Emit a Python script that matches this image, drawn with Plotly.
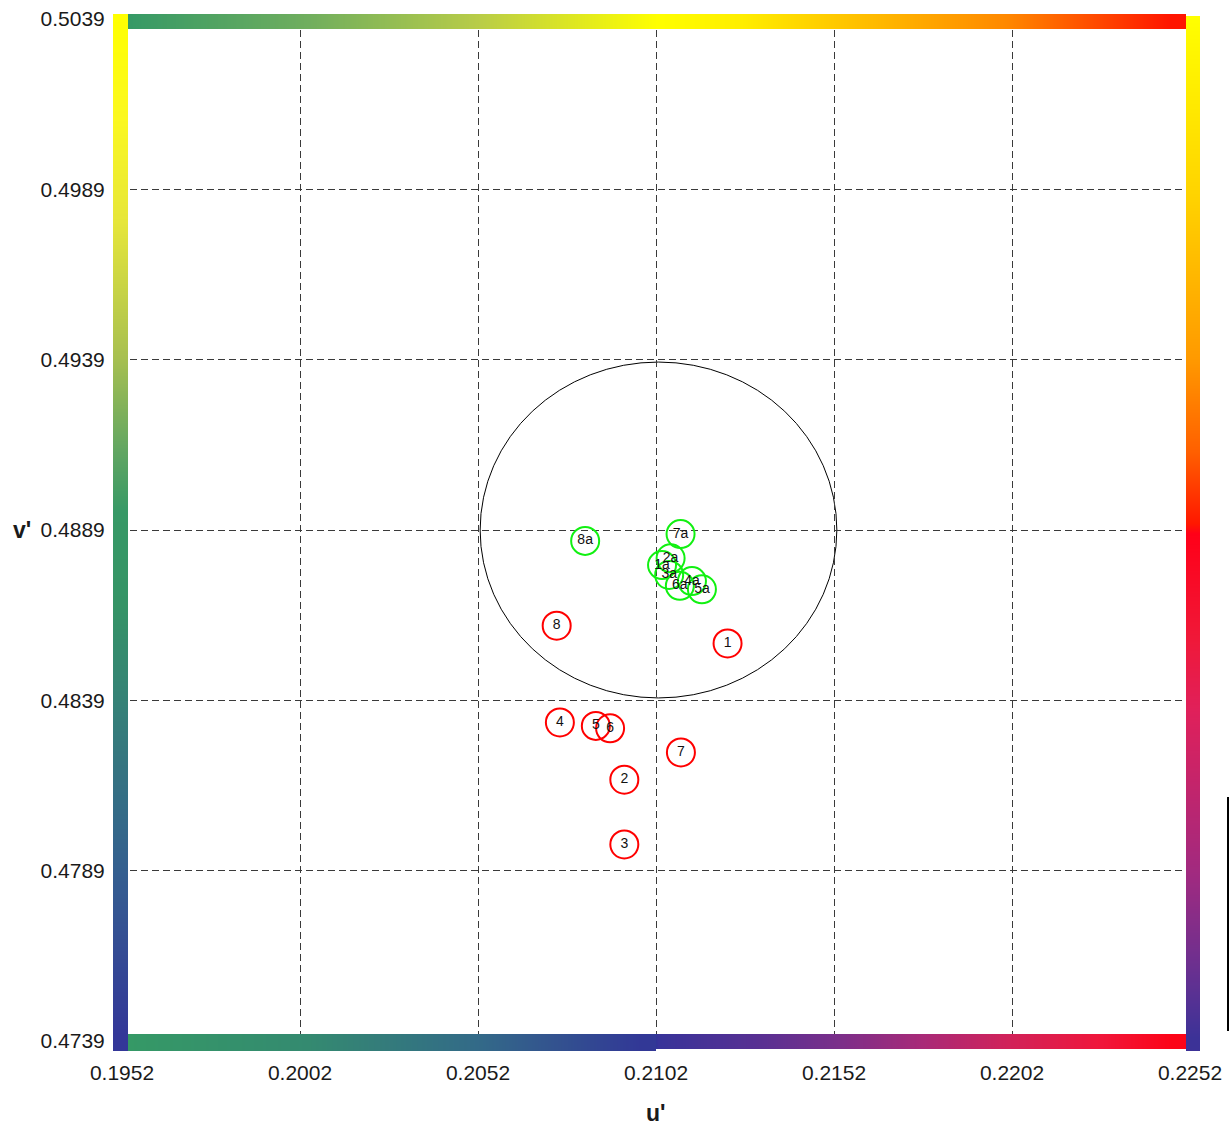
import numpy as np
import plotly.graph_objects as go

# ---------------- data ----------------
u_ticks = [0.1952, 0.2002, 0.2052, 0.2102, 0.2152, 0.2202, 0.2252]
v_ticks = [0.4739, 0.4789, 0.4839, 0.4889, 0.4939, 0.4989, 0.5039]
u_tick_text = ["0.1952", "0.2002", "0.2052", "0.2102", "0.2152", "0.2202", "0.2252"]
v_tick_text = ["0.4739", "0.4789", "0.4839", "0.4889", "0.4939", "0.4989", "0.5039"]

red_labels = ["1", "2", "3", "4", "5", "6", "7", "8"]
red_u = [0.21221, 0.20931, 0.20931, 0.20750, 0.20851, 0.20891, 0.21090, 0.20741]
red_v = [0.48557, 0.48157, 0.47967, 0.48325, 0.48315, 0.48308, 0.48237, 0.48609]

green_labels = ["1a", "2a", "3a", "4a", "5a", "6a", "7a", "8a"]
green_u = [0.21037, 0.21061, 0.21057, 0.21121, 0.21149, 0.21087, 0.21089, 0.20821]
green_v = [0.48787, 0.48807, 0.48758, 0.48740, 0.48716, 0.48726, 0.48878, 0.48858]

circle_center = (0.21027, 0.4889)
circle_radius_u = 0.00501
circle_radius_v = 0.00493

# ---------------- layout geometry (pixels) ----------------
FIG_W, FIG_H = 1229, 1127
# pixel positions of the first / last tick values
PL, PR, PT, PB = 122, 1190, 19, 1041
# plot-area edges (slightly larger than tick span so the frame bars lie inside)
AL, AR, AT, AB = 119, 1194, 19, 1045
U_MIN, U_MAX = u_ticks[0], u_ticks[-1]
V_MIN, V_MAX = v_ticks[0], v_ticks[-1]


def px_to_u(px):
    return U_MIN + (np.asarray(px, float) - PL) / (PR - PL) * (U_MAX - U_MIN)


def py_to_v(py):
    return V_MAX - (np.asarray(py, float) - PT) / (PB - PT) * (V_MAX - V_MIN)


def hex_rgb(h):
    h = h.lstrip("#")
    return [int(h[i:i + 2], 16) for i in (0, 2, 4)]


def interp_colors(fracs, stops):
    pos = np.array([s[0] for s in stops])
    rgb = np.array([hex_rgb(s[1]) for s in stops], float)
    out = []
    for f in fracs:
        r = np.interp(f, pos, rgb[:, 0])
        g = np.interp(f, pos, rgb[:, 1])
        b = np.interp(f, pos, rgb[:, 2])
        out.append(f"rgb({int(round(r))},{int(round(g))},{int(round(b))})")
    return out


top_stops = [(0, "#359966"), (0.17, "#70ae5e"), (0.33, "#b8cc48"), (0.5, "#ffff00"),
             (0.58, "#ffee00"), (0.67, "#ffc800"), (0.83, "#ff8800"), (1, "#ff0a00")]
bottom_stops = [(0, "#359966"), (0.17, "#348a70"), (0.33, "#336a88"), (0.4999, "#323398"),
                (0.5001, "#373399"), (0.6, "#5a3092"), (0.67, "#7a2f8a"), (0.75, "#a82a78"),
                (0.83, "#d0225a"), (0.92, "#f0163a"), (1, "#ff0010")]
left_stops = [(0, "#ffff00"), (0.1, "#fbf820"), (0.2, "#e6e63a"), (0.33, "#a8c050"),
              (0.42, "#62a662"), (0.48, "#379966"), (0.57, "#359466"), (0.67, "#358078"),
              (0.83, "#345e90"), (1, "#333399")]
right_stops = [(0, "#ffff00"), (0.17, "#ffd400"), (0.33, "#ff9a00"), (0.42, "#ff6000"),
               (0.49, "#ff1800"), (0.5, "#ff0018"), (0.6, "#f01838"), (0.67, "#e0205a"),
               (0.83, "#a02a80"), (0.92, "#6a3090"), (1, "#333399")]

fig = go.Figure()


def h_edge(x_start, x_end, yc, th, stops, full_start, full_end):
    p = np.arange(x_start + th / 2, x_end - th / 2 + 0.01, 1.0)
    fr = (p - th / 2 - full_start) / (full_end - full_start)
    fig.add_trace(go.Scatter(
        x=px_to_u(p), y=py_to_v(np.full_like(p, yc)), mode="markers",
        marker=dict(symbol="square", size=th, color=interp_colors(fr, stops), line=dict(width=0)),
        hoverinfo="skip", showlegend=False, cliponaxis=False))


def v_edge(y_start, y_end, xc, th, stops):
    p = np.arange(y_start + th / 2, y_end - th / 2 + 0.01, 1.0)
    fr = (p - th / 2 - y_start) / (y_end - y_start)
    fig.add_trace(go.Scatter(
        x=px_to_u(np.full_like(p, xc)), y=py_to_v(p), mode="markers",
        marker=dict(symbol="square", size=th, color=interp_colors(fr, stops), line=dict(width=0)),
        hoverinfo="skip", showlegend=False, cliponaxis=False))


# gradient frame
h_edge(128, 1186, 21.5, 15, top_stops, 128, 1186)
h_edge(128, 656, 1042.5, 17, bottom_stops, 128, 1186)
h_edge(656, 1186, 1041.5, 15, bottom_stops, 128, 1186)
v_edge(14, 1051, 120.5, 15, left_stops)
v_edge(16, 1051, 1193, 14, right_stops)

# points
fig.add_trace(go.Scatter(
    x=red_u, y=red_v, mode="markers+text", text=red_labels, textposition="middle center",
    textfont=dict(family="Liberation Sans, Arial, sans-serif", size=14, color="#111"),
    marker=dict(symbol="circle", size=28, color="rgba(0,0,0,0)", line=dict(color="#ff0000", width=2)),
    showlegend=False, name="samples"))
fig.add_trace(go.Scatter(
    x=green_u, y=green_v, mode="markers+text", text=green_labels, textposition="middle center",
    textfont=dict(family="Liberation Sans, Arial, sans-serif", size=14, color="#111"),
    marker=dict(symbol="circle", size=28, color="rgba(0,0,0,0)", line=dict(color="#11f011", width=2)),
    showlegend=False, name="adjusted"))

# tolerance circle
fig.add_shape(type="circle", xref="x", yref="y",
              x0=circle_center[0] - circle_radius_u, x1=circle_center[0] + circle_radius_u,
              y0=circle_center[1] - circle_radius_v, y1=circle_center[1] + circle_radius_v,
              line=dict(color="black", width=1), layer="below")

# partial line at right edge
fig.add_shape(type="line", xref="paper", yref="paper",
              x0=(1228 - AL) / (AR - AL), x1=(1228 - AL) / (AR - AL),
              y0=(AB - 797) / (AB - AT), y1=(AB - 1031) / (AB - AT),
              line=dict(color="black", width=2))

tick_font = dict(family="Liberation Sans, Arial, sans-serif", size=21, color="#1a1a1a")
axis_common = dict(showline=False, zeroline=False, showgrid=True, gridcolor="#3a3a3a",
                   gridwidth=1, griddash="7px,4px", ticks="outside",
                   tickcolor="rgba(0,0,0,0)", tickfont=tick_font, automargin=False, fixedrange=True)

fig.update_xaxes(range=[float(px_to_u(AL)), float(px_to_u(AR))], tickvals=u_ticks,
                 ticktext=u_tick_text, ticklen=9, **axis_common)
fig.update_yaxes(range=[float(py_to_v(AB)), float(py_to_v(AT))], tickvals=v_ticks,
                 ticktext=v_tick_text, ticklen=9, **axis_common)

title_font = dict(family="Liberation Sans, Arial, sans-serif", size=23, color="#1a1a1a")
fig.add_annotation(text="<b>u'</b>", xref="paper", yref="paper", x=(656 - AL) / (AR - AL), y=0,
                   xanchor="center", yanchor="middle", yshift=-(1113 - AB), showarrow=False, font=title_font)
fig.add_annotation(text="<b>v'</b>", xref="paper", yref="paper", x=0, y=(AB - 530) / (AB - AT),
                   xanchor="center", yanchor="middle", xshift=-(AL - 22), showarrow=False, font=title_font)

fig.update_layout(
    width=FIG_W, height=FIG_H,
    margin=dict(l=AL, r=FIG_W - AR, t=AT, b=FIG_H - AB, pad=0),
    plot_bgcolor="white", paper_bgcolor="white",
    showlegend=False,
)

fig.write_html("out.html", config={"displayModeBar": False},
               post_script="document.body.style.margin='0px';document.body.style.overflow='hidden';")
